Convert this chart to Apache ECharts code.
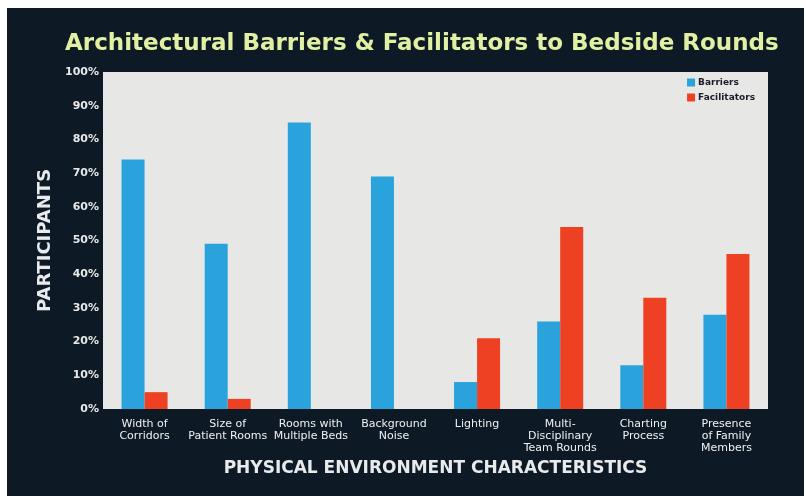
<!DOCTYPE html>
<html>
<head>
<meta charset="utf-8">
<script src="https://cdn.jsdelivr.net/npm/echarts@6/dist/echarts.min.js"></script>
<style>
html,body{margin:0;padding:0;background:#fff;}
#chart{width:806px;height:496px;}
</style>
</head>
<body>
<div id="chart"></div>
<script>
const categories = [
  "Width of\nCorridors",
  "Size of\nPatient Rooms",
  "Rooms with\nMultiple Beds",
  "Background\nNoise",
  "Lighting",
  "Multi-\nDisciplinary\nTeam Rounds",
  "Charting\nProcess",
  "Presence\nof Family\nMembers"
];
const barriers = [74, 49, 85, 69, 8, 26, 13, 28];
const facilitators = [5, 3, 0, 0, 21, 54, 33, 46];
const titleText = "Architectural Barriers & Facilitators to Bedside Rounds";
const yAxisTitle = "PARTICIPANTS";
const xAxisTitle = "PHYSICAL ENVIRONMENT CHARACTERISTICS";

const chart = echarts.init(document.getElementById('chart'));
chart.setOption({
  backgroundColor: '#ffffff',
  animation: false,
  graphic: [
    { type: 'rect', z: -10, shape: { x: 7, y: 8, width: 797, height: 488 }, style: { fill: '#0d1a26' } }
  ],
  title: {
    text: titleText,
    left: 60, top: 28,
    textStyle: { color: '#e2f0a4', fontSize: 23, fontWeight: 'bold', fontFamily: 'DejaVu Sans' }
  },
  legend: {
    orient: 'vertical',
    right: 46, top: 73,
    itemWidth: 8, itemHeight: 8, itemGap: 6,
    icon: 'rect',
    textStyle: { color: '#1c1c2a', fontSize: 9, fontWeight: 'bold', fontFamily: 'DejaVu Sans', padding: [0,0,0,-2] },
    data: ['Barriers', 'Facilitators']
  },
  grid: { left: 103, right: 38, top: 72, bottom: 87, show: true, backgroundColor: '#e7e7e5', borderWidth: 0 },
  xAxis: {
    type: 'category',
    data: categories,
    name: xAxisTitle,
    nameLocation: 'middle',
    nameGap: 51,
    nameTextStyle: { color: '#e8eaec', fontSize: 17, fontWeight: 'bold', fontFamily: 'DejaVu Sans' },
    axisLine: { show: false },
    axisTick: { show: false },
    axisLabel: { color: '#f0f0f0', fontSize: 11, fontFamily: 'DejaVu Sans', lineHeight: 12, margin: 9, interval: 0 }
  },
  yAxis: {
    type: 'value',
    min: 0, max: 100, interval: 10,
    name: yAxisTitle,
    nameLocation: 'middle',
    nameRotate: 90,
    nameGap: 48,
    nameTextStyle: { color: '#e8eaec', fontSize: 18, fontWeight: 'bold', fontFamily: 'DejaVu Sans' },
    axisLine: { show: false },
    axisTick: { show: false },
    splitLine: { show: false },
    axisLabel: { color: '#e8e8e8', fontSize: 11, fontWeight: 'bold', fontFamily: 'DejaVu Sans', formatter: '{value}%', margin: 4 }
  },
  series: [
    { name: 'Barriers', type: 'bar', data: barriers, barWidth: 23, barGap: '0%', itemStyle: { color: '#2aa3dc' } },
    { name: 'Facilitators', type: 'bar', data: facilitators, barWidth: 23, barGap: '0%', itemStyle: { color: '#ee4124' } }
  ]
});
</script>
</body>
</html>
